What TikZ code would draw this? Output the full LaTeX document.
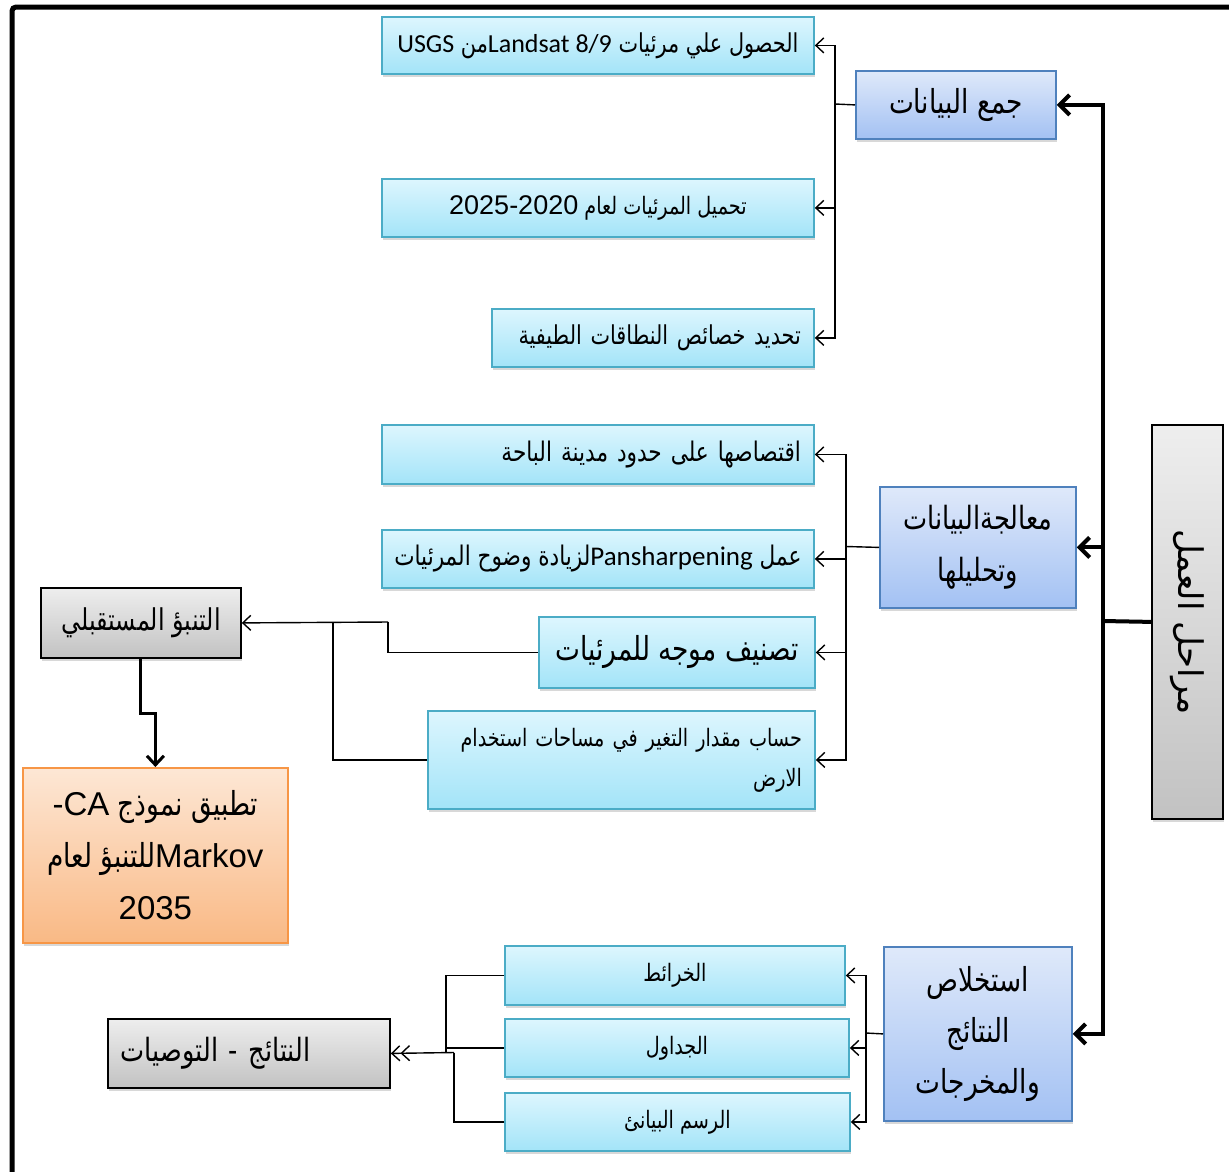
\documentclass[tikz,border=0pt]{standalone}
\usepackage{fontspec}
\setmainfont{Liberation Sans}
\newfontfamily\arf[Script=Arabic,FakeStretch=0.8]{DejaVu Sans}
\newfontfamily\arw[Script=Arabic]{DejaVu Sans}
\newfontfamily\calf{Carlito}
\TeXXeTstate=1
\usetikzlibrary{arrows.meta,shadows}
\newcommand{\AR}[1]{{\arf\beginR #1\endR}}
\newcommand{\LA}[1]{\beginL{\rmfamily #1}\endL}
\newcommand{\LC}[1]{\beginL{\calf #1}\endL}
\newcommand{\fs}[2]{\fontsize{#1}{#2}\selectfont}
\definecolor{cyantop}{HTML}{DDF6FE}
\definecolor{cyanbot}{HTML}{A3E4F8}
\definecolor{cyanedge}{HTML}{4BACC6}
\definecolor{bluetop}{HTML}{DFE9FA}
\definecolor{bluebot}{HTML}{A3C1F3}
\definecolor{blueedge}{HTML}{4F81BD}
\definecolor{graytop}{HTML}{EEEEEE}
\definecolor{graybot}{HTML}{C2C2C2}
\definecolor{ortop}{HTML}{FDE7D5}
\definecolor{orbot}{HTML}{F9B985}
\definecolor{oredge}{HTML}{F79646}
\tikzset{
  box/.style={draw, line width=1.8pt, inner sep=0pt, anchor=north west,
    drop shadow={opacity=0.3, shadow xshift=1.5pt, shadow yshift=-3pt}},
  cyanbox/.style={box, draw=cyanedge, top color=cyantop, bottom color=cyanbot},
  bluebox/.style={box, draw=blueedge, top color=bluetop, bottom color=bluebot},
  graybox/.style={box, draw=black, top color=graytop, bottom color=graybot},
  orbox/.style={box, draw=oredge, top color=ortop, bottom color=orbot},
  thinc/.style={line width=1.4pt, -{Straight Barb[length=8pt,width=15pt]}},
  thinl/.style={line width=1.4pt},
  mainc/.style={line width=4pt, -{Straight Barb[length=10pt,width=20pt]}},
  mainl/.style={line width=4pt},
  midc/.style={line width=3pt, -{Straight Barb[length=9pt,width=17pt]}},
}
\begin{document}
\begin{tikzpicture}[x=1pt,y=-1pt]
\useasboundingbox (0,0) rectangle (1229,1171);
\fill[white] (0,0) rectangle (1229,1171);
% frame
\draw[line width=5pt, rounded corners=4pt] (12,1175) -- (12,7) -- (1235,7);

% data collection group
\node[cyanbox, minimum width=432pt, minimum height=57pt, font=\fs{26}{30}] (t1) at (381,16)
  {\AR{الحصول علي مرئيات  \LC{Landsat 8/9}من \LC{USGS}}};
\node[cyanbox, minimum width=432pt, minimum height=58pt, font=\fs{24}{30}] (t2) at (381,178)
  {\AR{تحميل المرئيات لعام \LA{\fs{27}{34}2025-2020}}};
\node[cyanbox, minimum width=322pt, minimum height=58pt, text width=296pt, align=right, font=\fs{26}{30}] (t3) at (491,308)
  {\AR{تحديد خصائص النطاقات الطيفية}};
\node[bluebox, minimum width=200pt, minimum height=68pt, font=\fs{33}{38}] (jam) at (855,70)
  {\AR{جمع البيانات}};

% processing group
\node[cyanbox, minimum width=432pt, minimum height=59pt, text width=406pt, align=right, font=\fs{27}{30}] (p1) at (381,424)
  {\AR{اقتصاصها على حدود مدينة الباحة}};
\node[cyanbox, minimum width=432pt, minimum height=58pt, font=\fs{27}{30}] (p2) at (381,529)
  {\AR{عمل  \LC{Pansharpening}لزيادة  وضوح المرئيات}};
\node[cyanbox, minimum width=276pt, minimum height=71pt, font=\fs{33}{38}] (p3) at (538,616)
  {\AR{تصنيف موجه للمرئيات}};
\node[cyanbox, minimum width=387pt, minimum height=98pt, text width=361pt, align=right, font=\fs{24}{40}] (p4) at (427,710)
  {\AR{حساب مقدار  التغير في مساحات استخدام}\\\AR{الارض}};
\node[bluebox, minimum width=196pt, minimum height=121pt, align=center, font=\fs{32}{52}] (mua) at (879,486)
  {\AR{معالجةالبيانات}\\\AR{وتحليلها}};

% main stages
\node[graybox, minimum width=71pt, minimum height=394pt] (mr) at (1151,424) {};
\node[rotate=-90, inner sep=0pt, font=\fs{34}{40}] (mrt) at (mr.center) {{\arw\beginR مراحل العمل\endR}};

% results group
\node[bluebox, minimum width=188pt, minimum height=174pt, align=center, font=\fs{33}{51}] (ist) at (883,946)
  {\AR{استخلاص}\\\AR{النتائج}\\\AR{والمخرجات}};
\node[cyanbox, minimum width=340pt, minimum height=59pt, font=\fs{24}{28}] (r1) at (504,945)
  {\AR{الخرائط}};
\node[cyanbox, minimum width=344pt, minimum height=58pt, font=\fs{24}{28}] (r2) at (504,1018)
  {\AR{الجداول}};
\node[cyanbox, minimum width=345pt, minimum height=58pt, font=\fs{24}{28}] (r3) at (504,1092)
  {\AR{الرسم البيانئ}};
\node[graybox, minimum width=282pt, minimum height=69pt, text width=256pt, align=left, font=\fs{32}{36}] (nat) at (107,1018)
  {\AR{النتائج - التوصيات}};

% prediction
\node[graybox, minimum width=200pt, minimum height=70pt, font=\fs{30}{34}] (tan) at (40,587)
  {\AR{التنبؤ المستقبلي}};
\node[orbox, minimum width=265pt, minimum height=175pt, align=center, font=\fs{33}{52}] (tat) at (22,767)
  {\AR{تطبيق نموذج \LA{-CA}}\\\AR{\LA{Markov}للتنبؤ لعام}\\\LA{2035}};

% main bus
\coordinate (bx) at (1103,621);
\draw[mainl] (mr.west) -- (bx);
\draw[mainc] (bx) |- (jam.east);
\draw[mainc] (bx) |- (mua.east);
\draw[mainc] (bx) |- (ist.east);

% group 1
\coordinate (g1) at (835,104);
\draw[thinl] (jam.west) -- (g1);
\draw[thinc] (g1) |- (t1.east);
\draw[thinc] (g1) |- (t2.east);
\draw[thinc] (g1) |- (t3.east);

% group 2
\coordinate (g2) at (846,546.5);
\draw[thinl] (mua.west) -- (g2);
\draw[thinc] (g2) |- (p1.east);
\draw[thinc] (g2) |- (p2.east);
\draw[thinc] (g2) |- (p3.east);
\draw[thinc] (g2) |- (p4.east);

% group 3
\coordinate (g3) at (866,1033);
\draw[thinl] (ist.west) -- (g3);
\draw[thinc] (g3) |- (r1.east);
\draw[thinc] (g3) |- (r2.east);
\draw[thinc] (g3) |- (r3.east);

% to prediction
\coordinate (c1) at (388,622);
\coordinate (c2) at (333,622);
\draw[thinl] (p3.west) -| (c1);
\draw[thinl] (p4.west) -| (c2);
\draw[thinc] (c1) -- (tan.east);
\draw[midc] (tan.south) -- ++(0,55) -| (tat.north);

% to results
\coordinate (c3) at (446,1052.5);
\coordinate (c4) at (454,1052.5);
\draw[thinl] (r1.west) -| (c3);
\draw[thinl] (r2.west) -- (r2.west -| c3);
\draw[thinl] (r3.west) -| (c4);
\draw[line width=1.4pt, -{Straight Barb[length=8pt,width=15pt] Straight Barb[length=8pt,width=15pt]}] (c4) -- (nat.east);
\end{tikzpicture}
\end{document}
